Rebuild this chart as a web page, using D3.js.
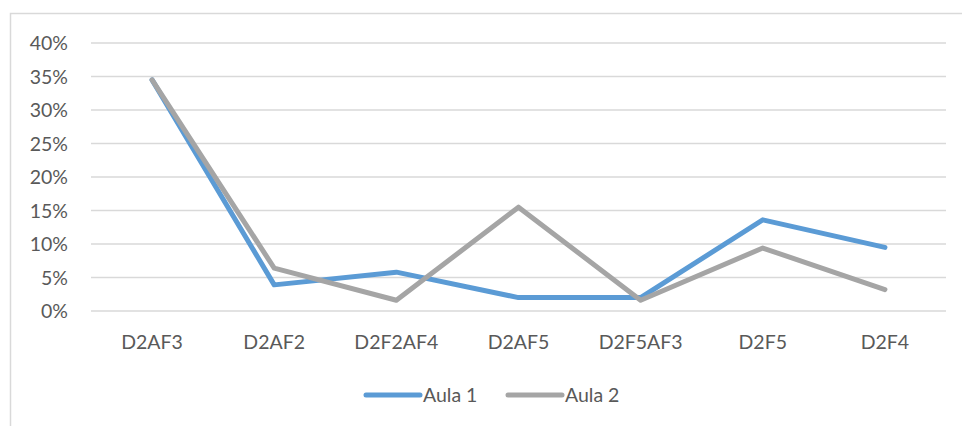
<!DOCTYPE html>
<html><head><meta charset="utf-8">
<script src="https://cdn.jsdelivr.net/npm/d3@7"></script>
<style>body{margin:0;background:#fff}svg{display:block}</style>
</head><body>
<svg id="c" width="962" height="426"></svg>
<script>
const categories = ["D2AF3","D2AF2","D2F2AF4","D2AF5","D2F5AF3","D2F5","D2F4"];
const aula1 = [0.345,0.039,0.058,0.020,0.020,0.136,0.095];
const aula2 = [0.345,0.064,0.016,0.155,0.016,0.094,0.032];
const seriesNames = ["Aula 1","Aula 2"];
const seriesColors = ["#5B9BD5","#A5A5A5"];
const yTicks = [0,0.05,0.10,0.15,0.20,0.25,0.30,0.35,0.40];

const svg = d3.select("#c");
const font = "Lato, 'Open Sans', sans-serif";
const fs = 19.5;
svg.append("rect").attr("x",10.5).attr("y",13.5).attr("width",1000).attr("height",1000)
  .attr("fill","none").attr("stroke","#D9D9D9").attr("stroke-width",1.5);

const x = d3.scaleBand().domain(categories).range([91,946]);
const y = d3.scaleLinear().domain([0,0.40]).range([311,43]);

const g = svg.append("g");
g.selectAll("line.grid").data(yTicks).enter().append("line")
  .attr("x1",91).attr("x2",946).attr("y1",d=>y(d)).attr("y2",d=>y(d))
  .attr("stroke","#D9D9D9").attr("stroke-width",1.3);

g.selectAll("text.yl").data(yTicks).enter().append("text")
  .attr("x",68).attr("y",d=>y(d)).attr("dy","0.36em").attr("text-anchor","end")
  .attr("font-family",font).attr("font-size",fs).attr("fill","#595959")
  .text(d3.format(".0%"));

g.selectAll("text.xl").data(categories).enter().append("text")
  .attr("x",d=>x(d)+x.bandwidth()/2).attr("y",342).attr("dy","0.36em").attr("text-anchor","middle")
  .attr("font-family",font).attr("font-size",fs).attr("fill","#595959")
  .text(d=>d);

const line = d3.line().x((d,i)=>x(categories[i])+x.bandwidth()/2).y(d=>y(d));
[aula1,aula2].forEach((s,i)=>{
  svg.append("path").attr("d",line(s)).attr("fill","none").attr("stroke",seriesColors[i])
    .attr("stroke-width",5).attr("stroke-linejoin","round").attr("stroke-linecap","round");
});

const legX = [366,508];
seriesNames.forEach((n,i)=>{
  svg.append("line").attr("x1",legX[i]).attr("x2",legX[i]+54).attr("y1",395).attr("y2",395)
    .attr("stroke",seriesColors[i]).attr("stroke-width",5).attr("stroke-linecap","round");
  svg.append("text").attr("x",legX[i]+57).attr("y",395).attr("dy","0.36em")
    .attr("font-family",font).attr("font-size",fs).attr("fill","#595959").text(n);
});
</script>
</body></html>
